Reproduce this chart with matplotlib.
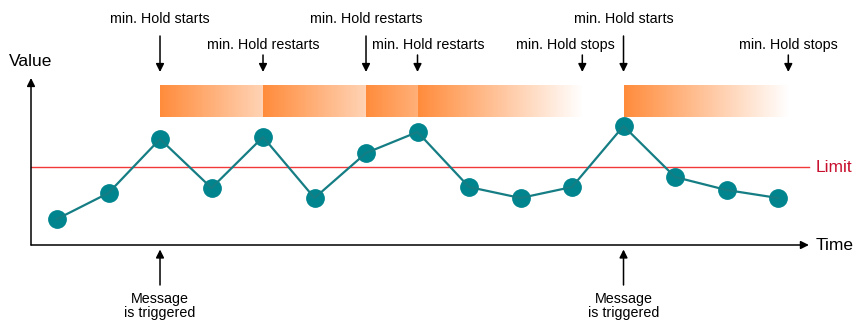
import numpy as np
import matplotlib
matplotlib.use("Agg")
import matplotlib.pyplot as plt

plt.rcParams['font.family'] = ['Liberation Sans', 'DejaVu Sans']

# ---- data ----
times = list(range(1, 16))
values = [2.6, 5.2, 10.6, 5.7, 10.8, 4.7, 9.2, 11.3, 5.8, 4.7, 5.8, 11.9, 6.8, 5.5, 4.7]
limit = 7.8
hold_duration = 3.2
# hold segments: (start, end)
hold_segments = [(3, 5), (5, 7), (7, 8), (8, 8 + hold_duration), (12, 12 + hold_duration)]
# top annotations
event_times = [3, 5, 7, 8, 8 + hold_duration, 12, 12 + hold_duration]
event_labels = ["min. Hold starts", "min. Hold restarts", "min. Hold restarts",
                "min. Hold restarts", "min. Hold stops", "min. Hold starts",
                "min. Hold stops"]
trigger_times = [3, 12]
trigger_label = "Message\nis triggered"

# ---- layout (not data) ----
event_rows = [0, 1, 0, 1, 1, 0, 1]                      # 0 = upper row, 1 = lower row
event_label_shift = [0, 0, 0, 0.2, -0.33, 0, 0]        # horizontal label nudge

fig = plt.figure(figsize=(8.6, 3.23), dpi=100)
ax = fig.add_axes([0, 0, 1, 1])

x0 = 0.495      # axis origin in time units
x_end = 15.6    # x-axis arrow tip
y_top = 16.7    # y-axis arrow tip

arrow_kw = dict(arrowstyle='-|>', color='black', lw=1.1, mutation_scale=12,
                shrinkA=0, shrinkB=0)

# axes arrows
ax.annotate('', xy=(x_end, 0), xytext=(x0, 0), arrowprops=arrow_kw)
ax.annotate('', xy=(x0, y_top), xytext=(x0, 0), arrowprops=arrow_kw)
ax.text(x0, 18.3, "Value", ha='center', va='center', fontsize=12.5)
ax.text(15.74, 0, "Time", ha='left', va='center', fontsize=12.5)

# limit line
ax.plot([x0, x_end], [limit, limit], color='#F2393A', lw=1.0, zorder=2)
ax.text(15.74, limit, "Limit", ha='left', va='center', fontsize=12.5, color='#C8102E')

# hold bars with gradient
orange = np.array([255, 140, 60]) / 255.0
white = np.array([1.0, 1.0, 1.0])
bar_bottom, bar_top = 12.8, 16.0
for s, e in hold_segments:
    n = 200
    tt = np.linspace(s, e, n)
    f = np.clip((tt - s) / hold_duration, 0, 1)
    cols = orange[None, :] * (1 - f[:, None]) + white[None, :] * f[:, None]
    img = cols[None, :, :]
    ax.imshow(img, extent=(s, e, bar_bottom, bar_top), aspect='auto',
              interpolation='bilinear', zorder=1)

# series
ax.plot(times, values, color='#00858F', lw=0, marker='o', markersize=12.5, zorder=3)
ax.plot(times, values, color='#157D84', lw=1.6, zorder=4)

# top annotations
for t, label, row, dx in zip(event_times, event_labels, event_rows, event_label_shift):
    if row == 0:
        ty, ay = 22.6, 20.9
    else:
        ty, ay = 20.0, 19.0
    ax.text(t + dx, ty, label, ha='center', va='center', fontsize=10.3)
    ax.annotate('', xy=(t, 17.3), xytext=(t, ay), arrowprops=arrow_kw)

# bottom annotations
for t in trigger_times:
    ax.annotate('', xy=(t, -0.45), xytext=(t, -4.0), arrowprops=arrow_kw)
    ax.text(t, -6.1, trigger_label, ha='center', va='center', fontsize=10.3,
            linespacing=1.05)

ax.set_xlim(-0.107, 16.592)
ax.set_ylim(-7.8, 24.5)
ax.axis('off')

fig.savefig("out.png", dpi=100)
